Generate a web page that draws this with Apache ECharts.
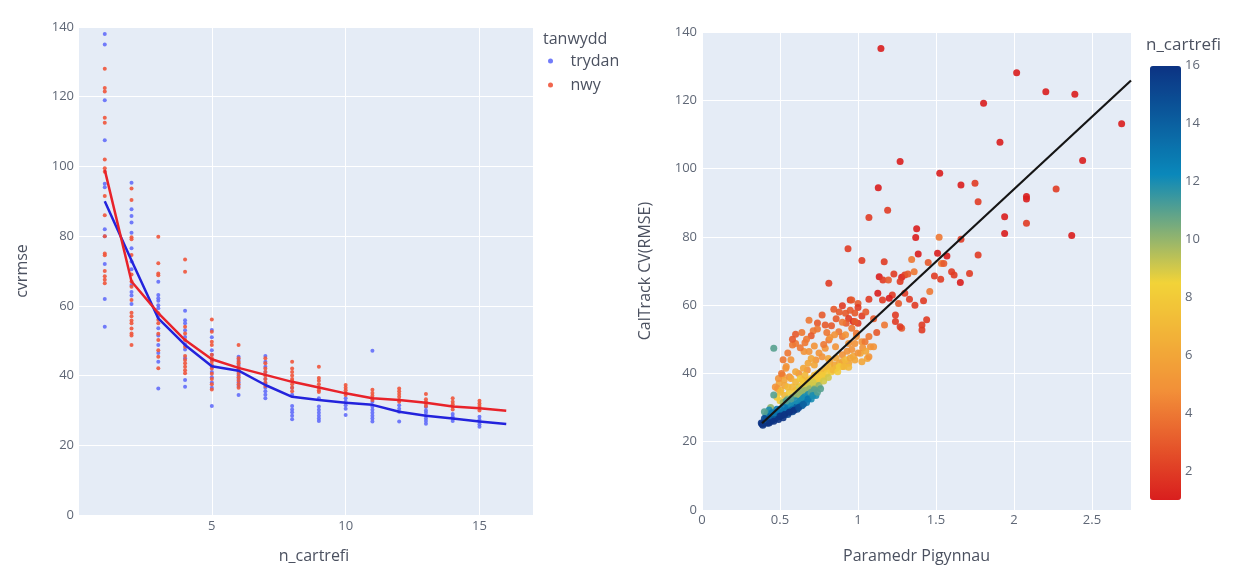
<!DOCTYPE html>
<html lang="cy">
<head>
<meta charset="UTF-8">
<title>cvrmse / CalTrack</title>
<style type="text/css">
  html, body { margin: 0; padding: 0; background: #fff; }
  #chart { width: 1238px; height: 570px; }
</style>
</head>
<body>
<div id="chart"></div>
<script src="https://cdn.jsdelivr.net/npm/echarts@6/dist/echarts.min.js"></script>
<script type="text/javascript">
// n_cartrefi categories (left chart)
var nCartrefi = [1, 2, 3, 4, 5, 6, 7, 8, 9, 10, 11, 12, 13, 14, 15, 16];

// cvrmse points per n_cartrefi, tanwydd = trydan
var trydanPts = [
  [138, 135, 119, 107.5, 95, 94, 82, 80, 72, 62, 54],
  [95.3, 87.7, 85.8, 83.9, 81, 76.5, 72.7, 70.5, 66, 64, 63, 60.5],
  [66.9, 63.1, 62.2, 61.5, 60.2, 59.3, 57, 53.6, 51.5, 48.8, 46.5, 44, 36.3],
  [58.6, 55.9, 55, 53, 51.1, 49, 47.5, 45, 38.7, 36.8],
  [53.1, 51, 47.3, 46, 44.5, 42.5, 41, 39.5, 38, 36.5, 31.3],
  [45.4, 44.5, 43, 42, 41, 40, 39, 38, 37, 34.4],
  [45.6, 44, 42.5, 41, 39, 37.8, 36.5, 35.5, 34.5, 33.5],
  [36.5, 34.5, 31.3, 30.3, 29.5, 28.5, 27.5],
  [33.5, 31.1, 30.2, 29.3, 28.5, 27.7, 27],
  [33.5, 32.5, 31.5, 30.5, 28.7],
  [47.1, 32.5, 31.1, 30.2, 29.3, 28.5, 27.7, 26.8],
  [31.5, 30.5, 29.6, 26.8],
  [31, 30, 29.3, 28.5, 27.7, 27, 26.2],
  [29, 28.2, 27.7, 27],
  [28.2, 27.3, 26.8, 26, 25.3],
  []
];

// cvrmse points per n_cartrefi, tanwydd = nwy
var nwyPts = [
  [128, 122.5, 121.5, 114, 112.5, 102, 99.5, 98.5, 91.5, 86, 80, 75, 74.5, 70, 68.5, 67.5, 66.5],
  [93.7, 90.4, 79.7, 79.1, 74.6, 69, 67, 65.5, 61.7, 58, 57, 55.8, 55, 53.5, 52.1, 51.5, 48.8],
  [79.8, 72.2, 69.3, 68.8, 57.9, 56, 55, 52, 50.2, 47.3, 45.4, 42.1],
  [73.3, 69.8, 54, 52.1, 50.2, 48.3, 45.6, 44.5, 43.5, 42.5, 41.5, 40.7],
  [56.1, 52.6, 49.7, 48.8, 46, 45, 44, 43, 42, 40.5, 39, 37.5, 36],
  [48.8, 45, 44, 43.5, 42.5, 41.5, 40.5, 39.5, 38.5, 37.5, 36.5],
  [45, 43.5, 42, 41, 40, 39, 38, 37],
  [44, 42, 41, 40, 39, 38.5, 37.5, 36.5, 35.5],
  [42.5, 39.3, 38.5, 37.5, 36.5, 35.8, 35.3],
  [37.3, 36.5, 35.8, 35, 34.4],
  [35.9, 35, 34.2, 33.5, 33],
  [36.3, 35.5, 34.7, 33.9, 33, 32.5],
  [34.7, 33.2, 32.5, 32, 31.3],
  [33.5, 32.5, 31.8, 31.1, 30.3],
  [32.8, 32, 31.3, 30.6, 30],
  []
];

// trend lines per n_cartrefi
var trydanLine = [90, 73, 56.4, 48.8, 42.7, 41.4, 37.3, 33.9, 33, 32.2, 31.6, 29.6, 28.5, 27.7, 26.8, 26.1];
var nwyLine = [99, 67, 57.9, 50.2, 44.7, 42.2, 40.2, 38.2, 36.6, 34.9, 33.5, 33, 32.2, 31.1, 30.6, 29.9];

// right chart: [Paramedr Pigynnau, CalTrack CV(RMSE), n_cartrefi]
var calPts = [
  [1.147, 135.2, 1], [2.017, 128.1, 1], [2.204, 122.5, 1], [2.39, 121.8, 1], [1.805, 119.1, 1],
  [2.69, 113.1, 1], [1.91, 107.7, 1], [2.44, 102.4, 1], [1.27, 102.1, 1], [1.524, 98.6, 1],
  [1.66, 95.2, 1], [1.75, 95.7, 2], [1.13, 94.4, 1], [2.27, 94, 2], [2.08, 91.8, 1],
  [2.08, 91.1, 1], [1.77, 90.3, 2], [1.19, 87.8, 2], [1.07, 85.7, 2], [1.94, 85.9, 1],
  [2.08, 84, 2], [1.376, 82.4, 1], [1.94, 81, 1], [2.37, 80.4, 1], [1.37, 79.8, 1],
  [1.52, 79.9, 4], [1.66, 79.3, 2], [0.936, 76.5, 2], [1.386, 75, 1], [1.51, 75.2, 1],
  [1.57, 74.4, 1], [1.77, 74.7, 2], [1.344, 73.4, 4], [1.025, 73.1, 2], [1.168, 72.7, 2],
  [1.45, 72.5, 3], [1.535, 72.2, 4], [1.55, 72.2, 3], [1.49, 68.5, 2], [1.53, 67.6, 2],
  [1.6, 69.8, 2], [1.616, 68.8, 2], [1.715, 69.3, 2], [1.656, 66.6, 1], [1.46, 64, 4],
  [0.813, 66.4, 2], [1.136, 68.3, 1], [1.16, 67.4, 2], [1.195, 67.4, 3], [1.23, 69.1, 2],
  [1.28, 68.2, 1], [1.3, 68.8, 2], [1.32, 69.1, 3], [1.27, 66.9, 2], [1.36, 69.8, 4],
  [1.127, 63.5, 1], [1.22, 63, 2], [1.157, 61.5, 2], [1.07, 61.7, 2], [0.95, 61.5, 2],
  [1.0, 60.5, 3], [1.0, 59.3, 2], [0.9, 59.8, 2], [1.33, 61.7, 2], [1.42, 61.3, 2],
  [1.26, 60.5, 3], [1.365, 60, 2], [1.44, 55.7, 2], [1.41, 52.7, 2], [1.28, 53.2, 3],
  [1.24, 55.2, 2], [1.17, 54.2, 4], [0.97, 55.2, 1], [1.0, 54.7, 2], [0.92, 57.6, 3],
  [0.94, 56.1, 2], [0.845, 58.8, 3], [0.77, 57.1, 3], [0.686, 55.6, 4], [0.79, 54.2, 3],
  [0.713, 52.5, 4], [0.98, 57.7, 3], [1.025, 56.8, 2], [1.24, 57.1, 2], [1.27, 53.7, 2],
  [1.41, 54.2, 2], [1.3, 63.5, 2], [0.74, 54.8, 3], [0.96, 61.5, 3], [1.2, 62, 1],
  [0.83, 54, 3], [0.86, 56, 3], [0.88, 58, 3], [0.95, 58.5, 3], [1.05, 58, 3],
  [1.1, 56, 3], [1.12, 52, 3],
  // orange band
  [0.58, 48.3, 4], [0.6, 48.8, 4], [0.654, 46.4, 5], [0.537, 41.5, 5], [0.516, 39.5, 5],
  [0.527, 38.1, 6], [0.56, 39, 5], [0.495, 37.1, 6], [0.484, 35.6, 5], [0.505, 35.1, 7],
  [0.62, 40, 5], [0.643, 38.1, 6], [0.675, 41, 5], [0.73, 43.9, 5], [0.77, 44.9, 5],
  [0.72, 42.5, 6], [0.813, 49.8, 4], [0.856, 47.8, 5], [0.9, 50.8, 4], [0.94, 48.8, 5],
  [0.877, 52.2, 4], [0.924, 54.7, 3], [0.96, 53.2, 4], [0.98, 55.2, 3], [0.99, 50.8, 5],
  [1.025, 49.3, 5], [1.07, 50.8, 4], [1.08, 47.8, 5], [1.015, 45.9, 6], [1.06, 44.4, 6],
  [0.686, 46.4, 5], [0.7, 44.4, 6], [0.79, 47.4, 5], [0.81, 44.4, 6], [0.9, 42, 6],
  [0.94, 43, 6], [0.98, 43.9, 6], [1.025, 43.4, 6], [1.07, 44.9, 5], [1.1, 47.8, 5],
  [0.47, 36, 5], [0.49, 38.5, 5], [0.51, 40, 4], [0.54, 42, 5], [0.57, 44, 5],
  [0.63, 47.5, 4], [0.66, 49, 4], [0.7, 51, 3], [0.74, 53, 4], [0.82, 50.5, 5],
  [0.85, 51.3, 5], [0.92, 51.3, 5], [0.99, 51.8, 4], [1.045, 49.3, 4], [0.98, 48.8, 5],
  [0.52, 44, 4], [0.55, 46, 4], [0.58, 50, 3], [0.6, 51.5, 3], [0.64, 52, 4],
  [0.67, 50, 4], [0.72, 48, 5], [0.75, 46, 5], [0.78, 48.5, 4], [0.8, 52, 4],
  [0.9, 55, 4], [0.68, 43, 6], [0.65, 41.5, 6], [0.6, 40.5, 6], [0.57, 38.5, 6],
  [0.53, 36.5, 6], [0.5, 34.5, 7], [0.48, 33, 8],
  [0.82, 43.5, 6], [0.86, 44.5, 6], [0.9, 45.5, 5], [0.93, 46.5, 5], [0.96, 47, 5],
  [1.03, 47.5, 5], [1.05, 46.5, 6],
  // yellow band
  [0.6, 35, 8], [0.62, 36, 9], [0.64, 36.5, 8], [0.66, 37.5, 8], [0.68, 38, 7],
  [0.7, 38.5, 8], [0.72, 39.5, 7], [0.74, 40, 8], [0.76, 40.5, 7], [0.78, 41, 7],
  [0.8, 41.5, 7], [0.82, 42, 7], [0.85, 42.5, 6], [0.88, 43, 6], [0.9, 43.5, 6],
  [0.92, 44, 7], [0.95, 44.5, 6], [0.97, 45, 6], [1.0, 46, 5], [0.62, 34, 9],
  [0.65, 35, 9], [0.68, 36, 9], [0.7, 36.5, 9], [0.73, 37.5, 8], [0.75, 38, 9],
  [0.78, 39, 8], [0.8, 40, 8], [0.83, 40.5, 8], [0.86, 41.5, 7], [0.88, 42, 8],
  [0.5, 32, 8], [0.53, 33.5, 7], [0.56, 34.5, 8], [0.58, 36, 7], [0.55, 36, 7],
  [0.6, 37.5, 7], [0.63, 38.5, 8], [0.66, 39.5, 7],
  [0.84, 41, 7], [0.87, 40.5, 8], [0.91, 42, 7], [0.94, 41.8, 7], [0.77, 39.5, 8],
  [0.74, 38.5, 8], [0.71, 37.5, 9], [0.69, 36.8, 9], [0.67, 35.8, 9],
  // green / teal
  [0.52, 31.5, 10], [0.55, 32.5, 10], [0.58, 33, 10], [0.6, 33.5, 11], [0.63, 34, 10],
  [0.66, 35, 10], [0.69, 35.5, 10], [0.72, 36.5, 9], [0.46, 47.4, 11], [0.42, 28.5, 11],
  [0.44, 30, 10], [0.46, 33.7, 11], [0.43, 29.3, 12], [0.41, 27.5, 12], [0.4, 28.8, 11],
  [0.64, 34.8, 10], [0.61, 33.5, 10], [0.75, 36.5, 10], [0.72, 35.5, 10], [0.78, 37.8, 9],
  [0.81, 38.8, 9],
  // blue cluster
  [0.385, 25.2, 16], [0.39, 24.8, 16], [0.4, 25.5, 16], [0.41, 25.8, 15], [0.42, 26.2, 16],
  [0.42, 25.4, 16], [0.43, 26.5, 15], [0.44, 26, 16], [0.45, 27, 15], [0.45, 26.3, 16],
  [0.46, 27.4, 15], [0.47, 26.8, 16], [0.48, 27.8, 14], [0.49, 27.3, 15], [0.5, 28.2, 14],
  [0.51, 27.6, 15], [0.52, 28.8, 14], [0.53, 28.4, 15], [0.54, 29.3, 14], [0.55, 29.8, 14],
  [0.56, 29.2, 15], [0.57, 30.3, 13], [0.58, 29.8, 14], [0.59, 30.6, 13], [0.6, 31, 13],
  [0.61, 30.4, 14], [0.62, 31.4, 13], [0.63, 31.9, 13], [0.64, 32.3, 12], [0.65, 32.8, 12],
  [0.66, 33.2, 12], [0.68, 33.8, 12], [0.7, 34.5, 11], [0.72, 35.2, 11], [0.57, 31.5, 12],
  [0.55, 31, 12], [0.53, 30, 13], [0.5, 29.5, 13], [0.47, 28.5, 13], [0.44, 27.5, 14],
  [0.41, 26.5, 14], [0.43, 25.5, 16], [0.46, 26, 16], [0.49, 26.5, 16], [0.52, 27, 16],
  [0.55, 28, 15], [0.58, 28.8, 15], [0.61, 29.5, 15], [0.64, 30.5, 14], [0.67, 31.5, 13],
  [0.7, 32.5, 12], [0.73, 33.5, 12],
  [0.5, 27.5, 16], [0.53, 28, 16], [0.56, 28.6, 16], [0.59, 29.2, 16], [0.62, 30, 15],
  [0.65, 31, 14], [0.68, 32.5, 13], [0.71, 33.5, 12], [0.74, 34.5, 11], [0.76, 35.5, 11],
  [0.6, 32, 12], [0.57, 32.5, 11], [0.54, 32, 11], [0.48, 29.5, 13], [0.45, 28.5, 13],
  [0.4, 26.8, 15], [0.38, 25.5, 16]
];

// fitted line end points
var fitLine = [[0.385, 25.4], [2.75, 125.8]];

// tick labels
var cvTicks = [0, 20, 40, 60, 80, 100, 120, 140];
var colorTicks = [2, 4, 6, 8, 10, 12, 14, 16];

var chart = echarts.init(document.getElementById('chart'));

// build point pairs
function pairs(pts) {
  var out = [];
  for (var i = 0; i < pts.length; i++) {
    for (var j = 0; j < pts[i].length; j++) {
      out.push([nCartrefi[i], pts[i][j]]);
    }
  }
  return out;
}
function linePairs(vals) {
  var out = [];
  for (var i = 0; i < vals.length; i++) out.push([nCartrefi[i], vals[i]]);
  return out;
}

var tickFont = { color: '#5f6776', fontSize: 13, fontFamily: 'Open Sans' };
var titleFont = { color: '#4b5160', fontSize: 16, fontFamily: 'Open Sans' };
var gridLine = { show: true, lineStyle: { color: '#ffffff', width: 1 } };

var option = {
  animation: false,
  backgroundColor: '#ffffff',
  textStyle: { fontFamily: 'Open Sans' },
  graphic: [
    { type: 'text', left: 543, top: 31, style: { text: 'tanwydd', fill: '#4b5160', font: '16px "Open Sans"' } },
    { type: 'text', left: 1146, top: 37, style: { text: 'n_cartrefi', fill: '#4b5160', font: '17px "Open Sans"' } }
  ],
  legend: {
    data: ['trydan', 'nwy'],
    orient: 'vertical',
    left: 548,
    top: 53,
    icon: 'circle',
    itemWidth: 30,
    itemHeight: 5,
    itemGap: 8,
    padding: 0,
    textStyle: { color: '#4b5160', fontSize: 16, fontFamily: 'Open Sans' }
  },
  visualMap: {
    type: 'continuous',
    seriesIndex: 4,
    dimension: 2,
    min: 1,
    max: 16,
    calculable: false,
    left: 1150,
    top: 66,
    itemWidth: 31,
    itemHeight: 434,
    padding: 0,
    inRange: { color: ['#d91e1e', '#f28f38', '#f2d338', '#0a88ba', '#0c3383'] }
  },
  grid: [
    { left: 78, top: 27, width: 455, height: 488, show: true, backgroundColor: '#e5ecf6', borderWidth: 0 },
    { left: 702, top: 32, width: 429, height: 478, show: true, backgroundColor: '#e5ecf6', borderWidth: 0 },
    { left: 1150, top: 65, width: 31, height: 464, show: false }
  ],
  xAxis: [
    {
      gridIndex: 0, type: 'value', min: 0, max: 17, interval: 5,
      name: 'n_cartrefi', nameLocation: 'middle', nameGap: 33,
      nameTextStyle: { color: '#4b5160', fontSize: 16, fontFamily: 'Open Sans', padding: [0, 0, 0, 17] },
      axisLine: { show: false }, axisTick: { show: false },
      axisLabel: Object.assign({ margin: 5, showMaxLabel: false, formatter: function (v) { return v === 0 ? '' : v; } }, tickFont),
      splitLine: gridLine
    },
    {
      gridIndex: 1, type: 'value', min: 0, max: 2.75, interval: 0.5,
      name: 'Paramedr Pigynnau', nameLocation: 'middle', nameGap: 38,
      nameTextStyle: titleFont,
      axisLine: { show: false }, axisTick: { show: false },
      axisLabel: Object.assign({ margin: 4, showMaxLabel: false }, tickFont),
      splitLine: gridLine
    },
    { gridIndex: 2, type: 'value', show: false }
  ],
  yAxis: [
    {
      gridIndex: 0, type: 'value', min: cvTicks[0], max: cvTicks[cvTicks.length - 1], interval: 20,
      name: 'cvrmse', nameLocation: 'middle', nameGap: 48,
      nameTextStyle: titleFont,
      axisLine: { show: false }, axisTick: { show: false },
      axisLabel: Object.assign({ margin: 4 }, tickFont),
      splitLine: gridLine
    },
    {
      gridIndex: 1, type: 'value', min: cvTicks[0], max: cvTicks[cvTicks.length - 1], interval: 20,
      name: 'CalTrack CV(RMSE)', nameLocation: 'middle', nameGap: 49,
      nameTextStyle: titleFont,
      axisLine: { show: false }, axisTick: { show: false },
      axisLabel: Object.assign({ margin: 5 }, tickFont),
      splitLine: gridLine
    },
    {
      // tick labels beside the colour bar
      gridIndex: 2, type: 'value', min: 0, max: colorTicks[colorTicks.length - 1], interval: 2,
      position: 'right',
      axisLine: { show: false }, axisTick: { show: false }, splitLine: { show: false },
      axisLabel: Object.assign({ margin: 4, formatter: function (v) { return colorTicks.indexOf(v) < 0 ? '' : v; } }, tickFont)
    }
  ],
  series: [
    {
      name: 'trydan', type: 'scatter', xAxisIndex: 0, yAxisIndex: 0,
      symbolSize: 4, itemStyle: { color: '#636efa', opacity: 0.9 },
      data: pairs(trydanPts)
    },
    {
      name: 'nwy', type: 'scatter', xAxisIndex: 0, yAxisIndex: 0,
      symbolSize: 4, itemStyle: { color: '#ef553b', opacity: 0.9 },
      data: pairs(nwyPts)
    },
    {
      name: 'trydan', type: 'line', xAxisIndex: 0, yAxisIndex: 0,
      showSymbol: false, lineStyle: { color: '#2323dc', width: 2.5 },
      data: linePairs(trydanLine)
    },
    {
      name: 'nwy', type: 'line', xAxisIndex: 0, yAxisIndex: 0,
      showSymbol: false, lineStyle: { color: '#e8232a', width: 2.5 },
      data: linePairs(nwyLine)
    },
    {
      name: 'CalTrack', type: 'scatter', xAxisIndex: 1, yAxisIndex: 1,
      symbolSize: 7, itemStyle: { opacity: 0.9 },
      data: calPts
    },
    {
      name: 'fit', type: 'line', xAxisIndex: 1, yAxisIndex: 1,
      showSymbol: false, lineStyle: { color: '#151515', width: 2.2 },
      data: fitLine
    }
  ]
};

chart.setOption(option);
</script>
</body>
</html>
